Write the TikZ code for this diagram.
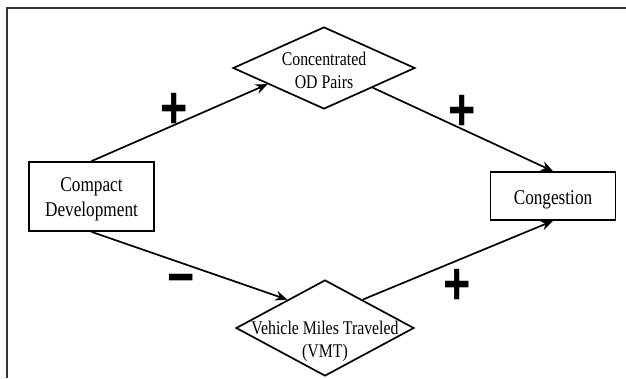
\documentclass[tikz,border=0pt]{standalone}
\usepackage{fontspec}
\setmainfont{Liberation Serif}
\newfontfamily\lblfont{Liberation Serif}[FakeStretch=0.82]
\newfontfamily\signfont{Liberation Sans}[FakeStretch=0.78]
\usetikzlibrary{shapes.geometric,arrows.meta}
\begin{document}
\begin{tikzpicture}[x=1pt,y=-1pt,
  boxnode/.style={draw, line width=1.7pt, rectangle, inner sep=0pt},
  boxtext/.style={font=\lblfont\fontsize{21}{25}\selectfont, align=center, inner sep=0pt},
  dia/.style={draw, diamond, inner sep=0pt, line width=1.7pt},
  diatext/.style={font=\lblfont\fontsize{19.3}{23}\selectfont, align=center, inner sep=0pt},
  link/.style={line width=1.7pt, -{Stealth[length=12pt,width=10pt,inset=4pt]}},
  sign/.style={font=\signfont\bfseries\fontsize{60}{60}\selectfont, inner sep=0pt},
  frame/.style={line width=1.8pt, draw=black!80}]
\useasboundingbox (0,0) rectangle (626,378);
\coordinate (fa) at (7,378);
\coordinate (fb) at (7,8);
\coordinate (fc) at (626,8);
\draw[frame] (fa) -- (fb) -- (fc);

\node[boxnode, minimum width=125pt, minimum height=69pt] (cd) at (91.5,196.5) {};
\node[boxtext] (cdt) at (91.5,199.5) {Compact\\Development};
\node[boxnode, minimum width=125pt, minimum height=48pt] (cg) at (553,196) {};
\node[boxtext] (cgt) at (553,200) {Congestion};
\node[dia, minimum width=182pt, minimum height=82pt] (od) at (324,68) {};
\node[diatext] (odt) at (324,70) {Concentrated\\OD Pairs};
\node[dia, minimum width=178pt, minimum height=96pt] (vmt) at (325,328) {};
\node[diatext] (vmtt) at (325,341) {Vehicle Miles Traveled\\(VMT)};

\draw[link] (cd.north) -- (od.196.5);
\draw[link] (od.338.8) -- (cg.north);
\draw[link] (cd.south) -- (vmt.143.6);
\draw[link] (vmt.37.1) -- (cg.south);

\node[sign] (p1) at (174.5,111) {+};
\node[sign] (p2) at (462,113) {+};
\node[sign] (m1) at (181,286) {−};
\node[sign] (p3) at (457,287) {+};
\end{tikzpicture}
\end{document}
